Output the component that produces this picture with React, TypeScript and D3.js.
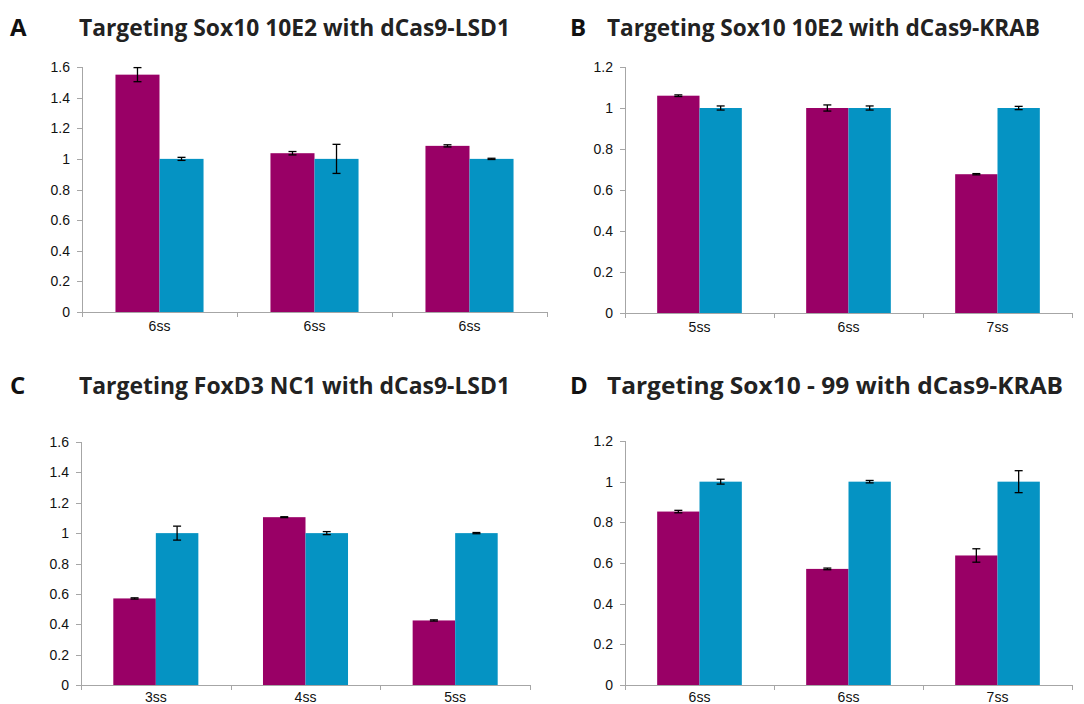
import React from "react";
import * as d3 from "d3";

// ---------- data ----------
const seriesKeys = ["treated", "control"];
const seriesColors = ["#990066", "#0593c3"];

const catsA = ["6ss", "6ss", "6ss"];
const treatedA = [1.55, 1.037, 1.085];
const treatedErrA = [0.046, 0.011, 0.007];
const controlA = [1.0, 1.0, 1.0];
const controlErrA = [0.01, 0.095, 0.004];

const catsB = ["5ss", "6ss", "7ss"];
const treatedB = [1.06, 1.0, 0.677];
const treatedErrB = [0.004, 0.015, 0.003];
const controlB = [1.0, 1.0, 1.0];
const controlErrB = [0.01, 0.01, 0.008];

const catsC = ["3ss", "4ss", "5ss"];
const treatedC = [0.57, 1.105, 0.425];
const treatedErrC = [0.004, 0.003, 0.004];
const controlC = [1.0, 1.0, 1.0];
const controlErrC = [0.046, 0.01, 0.004];

const catsD = ["6ss", "6ss", "7ss"];
const treatedD = [0.853, 0.571, 0.637];
const treatedErrD = [0.006, 0.004, 0.033];
const controlD = [1.0, 1.0, 1.0];
const controlErrD = [0.012, 0.006, 0.054];

const ticksTop16 = [0, 0.2, 0.4, 0.6, 0.8, 1, 1.2, 1.4, 1.6];
const ticksTop12 = [0, 0.2, 0.4, 0.6, 0.8, 1, 1.2];

const titles = [
  "Targeting Sox10 10E2 with dCas9-LSD1",
  "Targeting Sox10 10E2 with dCas9-KRAB",
  "Targeting FoxD3 NC1 with dCas9-LSD1",
  "Targeting Sox10 - 99 with dCas9-KRAB",
];
const letters = ["A", "B", "C", "D"];

// ---------- layout ----------
const panels = [
  { cats: catsA, t: treatedA, te: treatedErrA, c: controlA, ce: controlErrA, ticks: ticksTop16, x0: 82, x1: 547, yTop: 67, yBot: 312, letterX: 10, titleX: 79, titleW: 431, titleY: 36, labOff: 19 },
  { cats: catsB, t: treatedB, te: treatedErrB, c: controlB, ce: controlErrB, ticks: ticksTop12, x0: 625, x1: 1072, yTop: 67, yBot: 313, letterX: 570, titleX: 607, titleW: 433, titleY: 36, labOff: 19 },
  { cats: catsC, t: treatedC, te: treatedErrC, c: controlC, ce: controlErrC, ticks: ticksTop16, x0: 81, x1: 530, yTop: 442, yBot: 685, letterX: 10, titleX: 79, titleW: 431, titleY: 394, labOff: 17 },
  { cats: catsD, t: treatedD, te: treatedErrD, c: controlD, ce: controlErrD, ticks: ticksTop12, x0: 625, x1: 1072, yTop: 441, yBot: 685, letterX: 570, titleX: 607, titleW: 456, titleY: 394, labOff: 17 },
];

const AXIS = "#a6a6a6";

function Panel({ p, i }: any) {
  const idx = d3.range(p.cats.length);
  const x = d3.scaleBand<number>().domain(idx).range([p.x0, p.x1]).padding(0);
  const bw = x.bandwidth();
  const sub = d3.scaleBand<string>().domain(seriesKeys).range([0, bw]).paddingInner(0).paddingOuter(0.76);
  const ymax = p.ticks[p.ticks.length - 1];
  const y = d3.scaleLinear().domain([0, ymax]).range([p.yBot, p.yTop]);
  const vals = [p.t, p.c];
  const errs = [p.te, p.ce];
  const boundaries = d3.range(p.cats.length + 1).map((k) => p.x0 + k * bw);
  return (
    <g>
      <text x={p.letterX} y={p.titleY} fontFamily="'Open Sans', sans-serif" fontWeight={700} fontSize={24} fill="#111">
        {letters[i]}
      </text>
      <text x={p.titleX} y={p.titleY} fontFamily="'Open Sans', sans-serif" fontWeight={700} fontSize={23.5} fill="#222" textLength={p.titleW} lengthAdjust="spacingAndGlyphs">
        {titles[i]}
      </text>
      {/* bars */}
      {idx.map((k) =>
        seriesKeys.map((s, si) => {
          const v = vals[si][k];
          const bx = (x(k) as number) + (sub(s) as number);
          return (
            <rect key={k + s} x={bx} y={y(v)} width={sub.bandwidth()} height={p.yBot - y(v)} fill={seriesColors[si]} />
          );
        })
      )}
      {/* error bars */}
      {idx.map((k) =>
        seriesKeys.map((s, si) => {
          const v = vals[si][k];
          const e = errs[si][k];
          const cx = (x(k) as number) + (sub(s) as number) + sub.bandwidth() / 2;
          return (
            <g key={"e" + k + s} stroke="#000" strokeWidth={1.3}>
              <line x1={cx} x2={cx} y1={y(v + e)} y2={y(v - e)} />
              <line x1={cx - 4} x2={cx + 4} y1={y(v + e)} y2={y(v + e)} />
              <line x1={cx - 4} x2={cx + 4} y1={y(v - e)} y2={y(v - e)} />
            </g>
          );
        })
      )}
      {/* y axis */}
      <line x1={p.x0 + 0.5} x2={p.x0 + 0.5} y1={p.yTop} y2={p.yBot} stroke={AXIS} strokeWidth={1} />
      {p.ticks.map((t: number) => (
        <g key={"t" + t}>
          <line x1={p.x0 - 5} x2={p.x0} y1={Math.round(y(t)) + 0.5} y2={Math.round(y(t)) + 0.5} stroke={AXIS} strokeWidth={1} />
          <text x={p.x0 - 12} y={y(t)} dy="0.36em" textAnchor="end" fontFamily="'Liberation Sans', Arial, sans-serif" fontSize={14} fill="#111">
            {d3.format("~g")(t)}
          </text>
        </g>
      ))}
      {/* x axis */}
      <line x1={p.x0} x2={p.x1} y1={p.yBot + 0.5} y2={p.yBot + 0.5} stroke={AXIS} strokeWidth={1} />
      {boundaries.map((bx: number, k: number) => (
        <line key={"b" + k} x1={Math.round(bx) + 0.5} x2={Math.round(bx) + 0.5} y1={p.yBot} y2={p.yBot + 5} stroke={AXIS} strokeWidth={1} />
      ))}
      {idx.map((k) => (
        <text key={"c" + k} x={(x(k) as number) + bw / 2} y={p.yBot + p.labOff} textAnchor="middle" fontFamily="'Liberation Sans', Arial, sans-serif" fontSize={14} fill="#111">
          {p.cats[k]}
        </text>
      ))}
    </g>
  );
}

export default function App() {
  return (
    <svg width={1084} height={704} style={{ position: "absolute", left: 0, top: 0, background: "#fff" }}>
      <rect x={0} y={0} width={1084} height={704} fill="#fff" />
      {panels.map((p, i) => (
        <Panel key={i} p={p} i={i} />
      ))}
    </svg>
  );
}
